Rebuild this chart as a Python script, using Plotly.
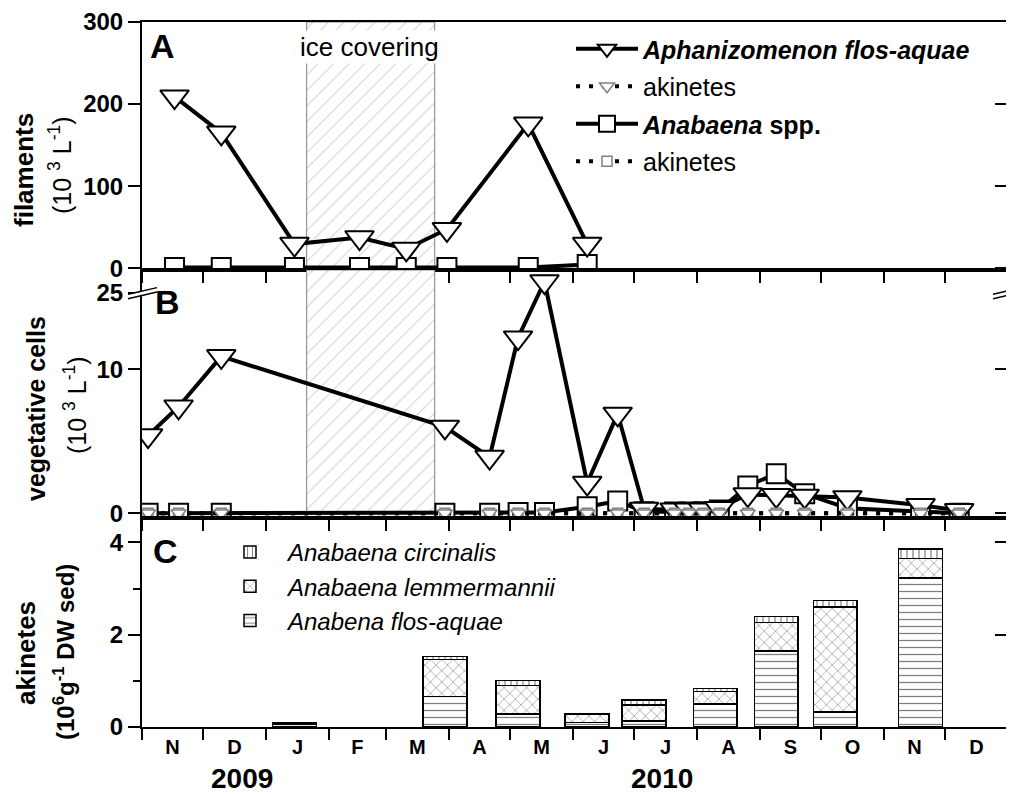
import pandas as pd
import plotly.graph_objects as go

# ---------------- data ----------------
month_starts = ["2009-11-01", "2009-12-01", "2010-01-01", "2010-02-01", "2010-03-01",
                "2010-04-01", "2010-05-01", "2010-06-01", "2010-07-01", "2010-08-01",
                "2010-09-01", "2010-10-01", "2010-11-01", "2010-12-01", "2011-01-01"]
month_letters = ["N", "D", "J", "F", "M", "A", "M", "J", "J", "A", "S", "O", "N", "D"]
year_labels = ["2009", "2010"]
year_label_dates = ["2009-12-20", "2010-07-15"]
ice_period = ["2010-01-21", "2010-03-25"]

# Panel A: filaments (10^3 L^-1)
dates_A = ["2009-11-17", "2009-12-10", "2010-01-15", "2010-02-16", "2010-03-11",
           "2010-03-31", "2010-05-10", "2010-06-08"]
aph_filaments = [209, 165, 29.5, 37.5, 23.5, 47.5, 176, 29.5]
anab_filaments = [1, 1, 1, 1, 1, 1, 1, 4.6]

# Panel B: vegetative cells / akinetes (10^3 L^-1)
dates_B = ["2009-11-04", "2009-11-19", "2009-12-10", "2010-03-30", "2010-04-21",
           "2010-05-05", "2010-05-18", "2010-06-08", "2010-06-23", "2010-07-06",
           "2010-07-21", "2010-07-28", "2010-08-04", "2010-08-12", "2010-08-26",
           "2010-09-09", "2010-09-23", "2010-10-14", "2010-11-19", "2010-12-08"]
aph_vegetative = [5.4, 7.4, 10.9, 6.0, 3.9, 12.2, 25.8, 2.1, 6.9, 0.3,
                  0.25, 0.25, 0.25, 0.35, 1.3, 1.25, 1.2, 1.1, 0.55, 0.2]
aph_akinetes = [0, 0, 0, 0, 0, 0, 0, 0, 0, 0,
                0, 0, 0, 0, 0, 0, 0, 0, 0, 0]
anab_vegetative = [0, 0, 0, 0, 0, 0.05, 0.05, 0.45, 0.85, 0.1,
                   0.08, 0.08, 0.1, 0.22, 1.9, 2.75, 1.35, 0.35, 0.1, 0]
anab_akinetes = [0, 0, 0, 0, 0, 0, 0, 0, 0, 0,
                 0, 0, 0, 0, 0, 0, 0, 0, 0, 0]

# Panel C: akinetes in sediment (10^6 g^-1 DW sed)
dates_C = ["2010-01-15", "2010-03-30", "2010-05-05", "2010-06-08", "2010-07-06",
           "2010-08-10", "2010-09-09", "2010-10-08", "2010-11-19"]
flos_aquae = [0.06, 0.66, 0.28, 0.10, 0.13, 0.50, 1.65, 0.32, 3.23]
lemmermannii = [0.03, 0.80, 0.62, 0.18, 0.35, 0.27, 0.62, 2.28, 0.42]
circinalis = [0.01, 0.07, 0.11, 0.00, 0.105, 0.07, 0.13, 0.14, 0.21]

# ---------------- helpers ----------------
BREAK_LOW, BREAK_SHIFT = 15.0, 9.7   # broken y axis in panel B


def brk(v):
    return v if v <= BREAK_LOW else v - BREAK_SHIFT


OFF = 8  # page body margin offset
L, R, T, B = 142, 1008, 22, 727   # plot area in target pixels
W, H = R - L, B - T
FIG_W, FIG_H = 1014 - OFF, 794 - OFF


def pxx(p):
    return (p - L) / W


def pxy(p):
    return (B - p) / H


FONT = "Arial, Liberation Sans, sans-serif"
X_RANGE = [month_starts[0], month_starts[-1]]
RA = [-2.1, 300]
RB = [-0.33, 16.9]
RC = [0, 4.53]
dA0, dB0 = pxy(270), pxy(518)

ms = pd.to_datetime(month_starts)
mids = [(ms[i] + (ms[i + 1] - ms[i]) / 2).strftime("%Y-%m-%d %H:%M") for i in range(len(ms) - 1)]
ice_mid = (pd.Timestamp(ice_period[0]) + (pd.Timestamp(ice_period[1]) - pd.Timestamp(ice_period[0])) / 2).strftime("%Y-%m-%d")

fig = go.Figure()

# ice covering hatch (panels A and B)
for xa, ya, rng in [("x", "y", RA), ("x2", "y2", RB)]:
    fig.add_trace(go.Scatter(
        x=[ice_period[0], ice_period[1], ice_period[1], ice_period[0], ice_period[0]],
        y=[rng[0], rng[0], rng[1], rng[1], rng[0]],
        xaxis=xa, yaxis=ya, mode="lines", fill="toself", fillcolor="white",
        fillpattern=dict(shape="/", fgcolor="#a8a8a8", bgcolor="white", size=11, solidity=0.1),
        line=dict(color="#808080", width=1), showlegend=False, hoverinfo="skip"))

# Panel A
fig.add_trace(go.Scatter(x=dates_A, y=anab_filaments, xaxis="x", yaxis="y", mode="lines+markers",
                         line=dict(color="black", width=4),
                         marker=dict(symbol="square", size=19, color="white", line=dict(color="black", width=2)),
                         showlegend=False))
fig.add_trace(go.Scatter(x=dates_A, y=aph_filaments, xaxis="x", yaxis="y", mode="lines+markers",
                         line=dict(color="black", width=4),
                         marker=dict(symbol="triangle-down", size=25, color="white", line=dict(color="black", width=2)),
                         showlegend=False))

# Panel B
dd = "4px,9px,4px,9px"
fig.add_trace(go.Scatter(x=dates_B, y=[brk(v) for v in anab_vegetative], xaxis="x2", yaxis="y2",
                         mode="lines+markers", name="<b><i>Anabaena</i> spp.</b>", legendrank=3,
                         legendgroup="g3",
                         line=dict(color="black", width=4),
                         marker=dict(symbol="square", size=19, color="white", line=dict(color="black", width=2))))
fig.add_trace(go.Scatter(x=dates_B, y=[brk(v) for v in aph_vegetative], xaxis="x2", yaxis="y2",
                         mode="lines+markers", name="<b><i>Aphanizomenon flos-aquae</i></b>", legendrank=1,
                         legendgroup="g1",
                         line=dict(color="black", width=4),
                         marker=dict(symbol="triangle-down", size=25, color="white", line=dict(color="black", width=2))))
fig.add_trace(go.Scatter(x=dates_B, y=[brk(v) for v in anab_akinetes], xaxis="x2", yaxis="y2",
                         mode="lines+markers", name="akinetes", legendrank=4, legendgroup="g4",
                         line=dict(color="black", width=4, dash=dd),
                         marker=dict(symbol="square", size=10, color="white", line=dict(color="#808080", width=1.5))))
fig.add_trace(go.Scatter(x=dates_B, y=[brk(v) for v in aph_akinetes], xaxis="x2", yaxis="y2",
                         mode="lines+markers", name="akinetes", legendrank=2, legendgroup="g2",
                         line=dict(color="black", width=4, dash=dd),
                         marker=dict(symbol="triangle-down", size=13, color="white", line=dict(color="#808080", width=1.5))))

# Panel C stacked bars
bar_w = 21.6 * 86400000
for vals, nm, shp, sz, sol, rank in [(flos_aquae, "<i>Anabena flos-aquae</i>", "-", 7, 0.18, 3),
                                     (lemmermannii, "<i>Anabaena lemmermannii</i>", "x", 8, 0.14, 2),
                                     (circinalis, "<i>Anabaena circinalis</i>", "|", 6, 0.2, 1)]:
    fig.add_trace(go.Bar(x=dates_C, y=vals, xaxis="x3", yaxis="y3", width=bar_w, name=nm,
                         legend="legend2", legendrank=rank,
                         marker=dict(color="white", line=dict(color="black", width=1.5),
                                     pattern=dict(shape=shp, fgcolor="black", bgcolor="white",
                                                  size=sz, solidity=sol))))

# dummy traces so overlay axes are drawn
for xa, ya in [("x4", "y3"), ("x", "y4"), ("x2", "y5"), ("x3", "y6")]:
    fig.add_trace(go.Scatter(x=[], y=[], xaxis=xa, yaxis=ya, showlegend=False, hoverinfo="skip"))

xcommon = dict(type="date", range=X_RANGE, tickmode="array", tickvals=month_starts,
               showticklabels=False, ticks="outside", ticklen=11, tickwidth=2, tickcolor="black",
               showline=True, linewidth=2, linecolor="black", mirror=True,
               showgrid=False, zeroline=False, automargin=False)
ycommon = dict(ticks="outside", ticklen=12, tickwidth=2, tickcolor="black",
               showline=True, linewidth=2, linecolor="black", mirror=True,
               showgrid=False, zeroline=False, automargin=False,
               tickfont=dict(family=FONT, size=24, color="black", weight="bold"))
yright = dict(side="right", ticks="inside", ticklen=13, tickwidth=2, tickcolor="black",
              showticklabels=False, showline=False, showgrid=False, zeroline=False,
              automargin=False)

fig.update_layout(
    width=FIG_W, height=FIG_H,
    margin=dict(l=L - OFF, r=FIG_W - (R - OFF), t=T - OFF, b=FIG_H - (B - OFF), autoexpand=False),
    paper_bgcolor="white", plot_bgcolor="white",
    font=dict(family=FONT, color="black", size=22),
    barmode="stack",
    xaxis=dict(domain=[0, 1], anchor="y", **xcommon),
    xaxis2=dict(domain=[0, 1], anchor="y2", **xcommon),
    xaxis3=dict(domain=[0, 1], anchor="y3", **xcommon),
    xaxis4=dict(overlaying="x3", anchor="y3", side="bottom", type="date", range=X_RANGE,
                tickmode="array", tickvals=mids, ticktext=month_letters,
                ticks="outside", ticklen=2, tickcolor="rgba(0,0,0,0)",
                showline=False, showgrid=False, zeroline=False, automargin=False,
                tickfont=dict(family=FONT, size=20, color="black", weight="bold")),
    yaxis=dict(domain=[dA0, 1], anchor="x", range=RA, tickmode="array",
               tickvals=[0, 100, 200, 300], **ycommon),
    yaxis2=dict(domain=[dB0, dA0], anchor="x2", range=RB, tickmode="array",
                tickvals=[brk(0), brk(10), brk(25)], ticktext=["0", "10", "25"], **ycommon),
    yaxis3=dict(domain=[0, dB0], anchor="x3", range=RC, tickmode="array", tickvals=[0, 2, 4],
                minor=dict(tickmode="array", tickvals=[1, 3], ticks="outside", ticklen=7,
                           tickwidth=2, tickcolor="black"),
                **ycommon),
    yaxis4=dict(overlaying="y", anchor="x", range=RA, tickmode="array", tickvals=[0, 100, 200], **yright),
    yaxis5=dict(overlaying="y2", anchor="x2", range=RB, tickmode="array", tickvals=[brk(0), brk(10)], **yright),
    yaxis6=dict(overlaying="y3", anchor="x3", range=RC, tickmode="array", tickvals=[0, 2, 4], **yright),
    legend=dict(x=pxx(571), y=pxy(26), xanchor="left", yanchor="top", bgcolor="rgba(0,0,0,0)",
                font=dict(family=FONT, size=25, color="black"), itemwidth=62,
                tracegroupgap=2, traceorder="grouped"),
    legend2=dict(x=pxx(212), y=pxy(530), xanchor="left", yanchor="top", bgcolor="rgba(0,0,0,0)",
                 font=dict(family=FONT, size=24, color="black"), itemwidth=66, traceorder="normal"),
)

ann = []
# panel letters
for txt, xp, yp in [("A", 148, 46), ("B", 153, 302), ("C", 151, 551)]:
    ann.append(dict(text=f"<b>{txt}</b>", x=pxx(xp), y=pxy(yp), xref="paper", yref="paper",
                    xanchor="left", yanchor="middle", showarrow=False,
                    font=dict(family=FONT, size=34, color="black")))
# axis titles
for txt, xp, yp, sz in [("<b>filaments</b>", 24, 170, 26),
                        ("(10 <sup>3</sup> L<sup>-1</sup>)", 60, 165, 25),
                        ("<b>vegetative cells</b>", 36, 409, 25),
                        ("(10 <sup>3</sup> L<sup>-1</sup>)", 75, 405, 25),
                        ("<b>akinetes</b>", 26, 653, 26),
                        ("<b>(10<sup>6</sup>g<sup>-1</sup> DW sed)</b>", 64, 652, 24)]:
    ann.append(dict(text=txt, x=pxx(xp), y=pxy(yp), xref="paper", yref="paper", textangle=-90,
                    xanchor="center", yanchor="middle", showarrow=False,
                    font=dict(family=FONT, size=sz, color="black")))
# years
for txt, d in zip(year_labels, year_label_dates):
    ann.append(dict(text=f"<b>{txt}</b>", x=d, y=pxy(778), xref="x3", yref="paper",
                    xanchor="center", yanchor="middle", showarrow=False,
                    font=dict(family=FONT, size=28, color="black")))
# ice covering label
ann.append(dict(text="ice covering", x=ice_mid, y=pxy(47), xref="x", yref="paper",
                xanchor="center", yanchor="middle", showarrow=False, bgcolor="white",
                font=dict(family=FONT, size=26, color="black")))
fig.update_layout(annotations=ann)

# axis break marks for panel B
shapes = []
for (x0, x1) in [(128, 157), (993, 1012)]:
    ymid = 296.5
    slope = -0.23
    shapes.append(dict(type="line", xref="paper", yref="paper",
                       x0=pxx(x0), x1=pxx(x1), y0=pxy(ymid), y1=pxy(ymid + slope * (x1 - x0)),
                       line=dict(color="white", width=3)))
    for off in (-2.2, 2.2):
        shapes.append(dict(type="line", xref="paper", yref="paper",
                           x0=pxx(x0), x1=pxx(x1), y0=pxy(ymid + off),
                           y1=pxy(ymid + off + slope * (x1 - x0)),
                           line=dict(color="black", width=1.5)))
fig.update_layout(shapes=shapes)

fig.write_html("out.html")
